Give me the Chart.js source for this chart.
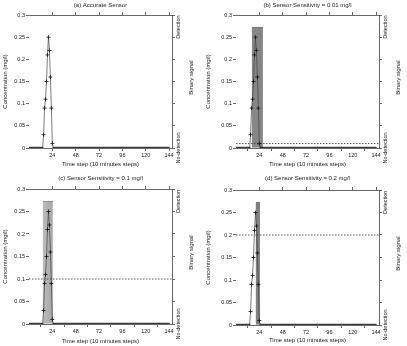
<!DOCTYPE html>
<html>
<head>
<meta charset="utf-8">
<script src="https://cdn.jsdelivr.net/npm/chart.js@4.4.0/dist/chart.umd.min.js"></script>
<style>
  body { margin: 0; background: #fff; }
  #wrap { position: relative; width: 407px; height: 346px; overflow: hidden; }
  canvas { position: absolute; }
</style>
</head>
<body>
<div id="wrap">
  <canvas id="pa" width="204" height="173" style="left:0;top:0"></canvas>
  <canvas id="pb" width="204" height="173" style="left:203px;top:0"></canvas>
  <canvas id="pc" width="204" height="173" style="left:0;top:173px"></canvas>
  <canvas id="pd" width="204" height="173" style="left:203px;top:173px"></canvas>
</div>
<script>
// values
var peakSteps = [15, 16, 17, 18, 19, 20, 21, 22, 23, 24];
var peakConc = [0.03, 0.09, 0.11, 0.15, 0.21, 0.25, 0.22, 0.16, 0.09, 0.01];
var lastStep = 144;
var xTicks = [24, 48, 72, 96, 120, 144];
var yTicks = [0, 0.05, 0.1, 0.15, 0.2, 0.25, 0.3];
var titles = [
  "(a) Accurate Sensor",
  "(b) Sensor Sensitivity = 0.01 mg/l",
  "(c) Sensor Sensitivity = 0.1 mg/l",
  "(d) Sensor Sensitivity = 0.2 mg/l"
];
var sensitivity = [null, 0.01, 0.1, 0.2];
var detectSteps = [
  [],
  [17, 18, 19, 20, 21, 22, 23, 24, 25, 26, 27],
  [15, 16, 17, 18, 19, 20, 21, 22, 23, 24],
  [21, 22, 23, 24]
];
var binaryLabels = ["No-detection", "Detection"];

var X_MAX = 147, Y_MAX = 0.3, Y2_MAX = 1.1, DETECT = 1;

// panel geometry (chart area inside each 204x173 canvas)
var panels = [
  { id: "pa", L: 29, R: 172, T: 15, B: 148, xlab: 164, barFill: "#888", barLine: "#555" },
  { id: "pb", L: 33, R: 176, T: 15, B: 148, xlab: 164, barFill: "#888", barLine: "#666" },
  { id: "pc", L: 29, R: 172, T: 16, B: 151, xlab: 168, barFill: "#c8c8c8", barLine: "#555" },
  { id: "pd", L: 33, R: 176, T: 17, B: 152, xlab: 167, barFill: "#7a7a7a", barLine: "#777" }
];

var FONT = "'Liberation Sans', Arial, sans-serif";
var INK = "#222";

// whole series: zero everywhere except the peak readings
var concData = [];
for (var s = 0; s <= lastStep; s++) {
  var k = peakSteps.indexOf(s);
  concData.push({ x: s, y: k >= 0 ? peakConc[k] : 0 });
}

var rightLabels = {
  id: "rightLabels",
  afterDraw: function (chart) {
    var ctx = chart.ctx, a = chart.chartArea, y2 = chart.scales.y2;
    ctx.save();
    ctx.fillStyle = INK;
    ctx.textAlign = "center";
    ctx.textBaseline = "middle";
    function vtext(t, x, y, size) {
      ctx.save();
      ctx.font = size + "px " + FONT;
      ctx.translate(x, y);
      ctx.rotate(-Math.PI / 2);
      ctx.fillText(t, 0, 0);
      ctx.restore();
    }
    vtext(binaryLabels[0], a.right + 6, y2.getPixelForValue(0), 5.5);
    vtext(binaryLabels[1], a.right + 6, y2.getPixelForValue(DETECT), 5.5);
    vtext("Binary signal", a.right + 19, (a.top + a.bottom) / 2 - 4, 6);
    ctx.restore();
  }
};

panels.forEach(function (p, i) {
  var H = 173, W = 204;
  var datasets = [
    {
      type: "line",
      data: concData,
      borderColor: "#444",
      borderWidth: 0.7,
      pointStyle: "cross",
      pointRadius: function (c) { return c.raw && c.raw.y > 0 ? 2 : 1.4; },
      pointBorderWidth: function (c) { return c.raw && c.raw.y > 0 ? 0.8 : 0.5; },
      pointBorderColor: "#111",
      tension: 0,
      order: 1,
      xAxisID: "x",
      yAxisID: "y"
    }
  ];
  if (sensitivity[i] !== null) {
    datasets.push({
      type: "line",
      data: [{ x: 0, y: sensitivity[i] }, { x: X_MAX, y: sensitivity[i] }],
      borderColor: "#333",
      borderWidth: 0.8,
      borderDash: [1.5, 1.5],
      pointRadius: 0,
      order: 2,
      xAxisID: "x",
      yAxisID: "y"
    });
  }
  if (detectSteps[i].length) {
    datasets.push({
      type: "bar",
      data: detectSteps[i].map(function (d) { return { x: d, y: DETECT }; }),
      backgroundColor: p.barFill,
      borderColor: p.barLine,
      borderWidth: 0.4,
      barPercentage: 1,
      categoryPercentage: 1,
      order: 3,
      xAxisID: "x",
      yAxisID: "y2"
    });
  }

  new Chart(document.getElementById(p.id), {
    type: "line",
    data: { datasets: datasets },
    plugins: [rightLabels],
    options: {
      responsive: false,
      animation: false,
      events: [],
      layout: { padding: 0 },
      plugins: { legend: { display: false }, tooltip: { enabled: false } },
      scales: {
        x: {
          type: "linear", position: "bottom", min: 0, max: X_MAX, offset: false,
          afterBuildTicks: function (sc) { sc.ticks = xTicks.map(function (v) { return { value: v }; }); },
          afterFit: function (sc) { sc.height = H - p.B; },
          grid: { drawOnChartArea: false, color: "#444", tickLength: 3, lineWidth: 0.8 },
          border: { display: true, color: "#444", width: 0.8 },
          ticks: { color: INK, font: { family: FONT, size: 5.5 }, padding: 1, maxRotation: 0, autoSkip: false },
          title: {
            display: true, text: "Time step (10 minutes steps)", color: INK,
            font: { family: FONT, size: 6 }, padding: { top: 0, bottom: H - p.xlab - 3.6 }
          }
        },
        x2: {
          type: "linear", position: "top", min: 0, max: X_MAX, offset: false,
          afterBuildTicks: function (sc) { sc.ticks = xTicks.map(function (v) { return { value: v }; }); },
          afterFit: function (sc) { sc.height = p.T; },
          grid: { drawOnChartArea: false, color: "#444", tickLength: 3, lineWidth: 0.8 },
          border: { display: true, color: "#444", width: 0.8 },
          ticks: { display: false },
          title: {
            display: true, text: titles[i], color: INK,
            font: { family: FONT, size: 6 }, padding: { top: 1.4, bottom: 0 }
          }
        },
        y: {
          type: "linear", position: "left", min: 0, max: Y_MAX,
          afterBuildTicks: function (sc) { sc.ticks = yTicks.map(function (v) { return { value: v }; }); },
          afterFit: function (sc) { sc.width = p.L; },
          grid: { drawOnChartArea: false, color: "#444", tickLength: 3, lineWidth: 0.8 },
          border: { display: false },
          ticks: {
            color: INK, font: { family: FONT, size: 5.5 }, padding: 1,
            callback: function (v) { return String(+v.toFixed(2)); }
          },
          title: {
            display: true, text: "Concentration (mg/l)", color: INK,
            font: { family: FONT, size: 6 }, padding: { top: 1.4, bottom: 0 }
          }
        },
        y2: {
          type: "linear", position: "right", min: 0, max: Y2_MAX,
          afterBuildTicks: function (sc) { sc.ticks = yTicks.map(function (v) { return { value: v / Y_MAX * Y2_MAX }; }); },
          afterFit: function (sc) { sc.width = W - p.R; },
          grid: { drawOnChartArea: false, color: "#444", tickLength: 3, lineWidth: 0.8 },
          border: { display: true, color: "#444", width: 0.8 },
          ticks: { display: false }
        }
      }
    }
  });
});
</script>
</body>
</html>
